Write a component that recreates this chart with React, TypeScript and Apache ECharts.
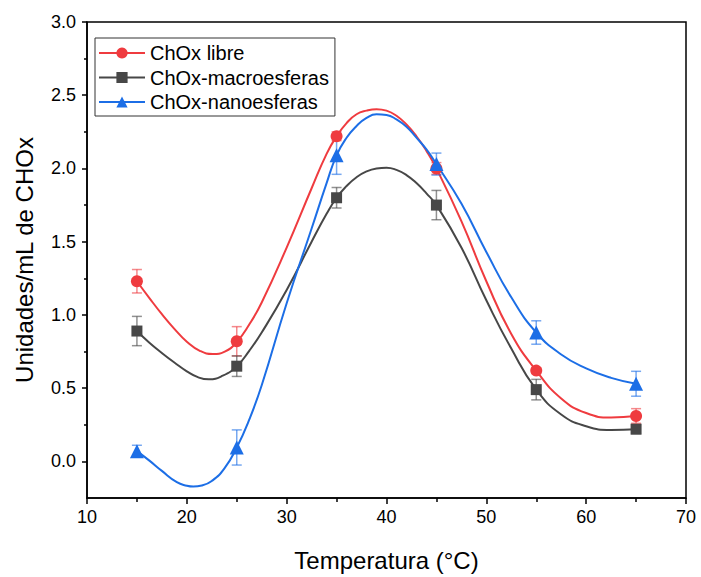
import React, { useEffect, useRef } from "react";
import * as echarts from "echarts";

const xPoints = [15, 25, 35, 45, 55, 65];
const libre = [1.23, 0.82, 2.22, 2.0, 0.62, 0.31];
const libreErr = [0.08, 0.1, 0.03, 0.04, 0.02, 0.05];
const macro = [0.89, 0.65, 1.8, 1.75, 0.49, 0.22];
const macroErr = [0.1, 0.07, 0.07, 0.1, 0.07, 0.03];
const nano = [0.07, 0.095, 2.09, 2.03, 0.88, 0.53];
const nanoErr = [0.04, 0.12, 0.13, 0.075, 0.08, 0.085];

// fitted curves
const libreCurveX = [15, 16.25, 17.5, 18.75, 20, 21.3, 22.6, 23.8, 25, 26.25, 27.5, 30, 32.5, 34, 35, 36, 37, 38, 39, 40, 41, 42, 43, 44, 45, 47.5, 50, 52.5, 55, 57.5, 60, 62.5, 65];
const libreCurveY = [1.23, 1.115, 1.005, 0.905, 0.817, 0.755, 0.733, 0.75, 0.815, 0.934, 1.085, 1.46, 1.865, 2.1, 2.22, 2.31, 2.37, 2.395, 2.405, 2.395, 2.36, 2.3, 2.22, 2.12, 2.0, 1.64, 1.23, 0.87, 0.62, 0.43, 0.33, 0.3, 0.31];
const macroCurveX = [15, 16.25, 17.5, 18.75, 20, 21.1, 22.2, 23.6, 25, 26.25, 27.5, 30, 32.5, 34, 35, 36, 37, 38, 39, 40, 41, 42, 43, 44, 45, 47.5, 50, 52.5, 55, 57.5, 60, 62.5, 65];
const macroCurveY = [0.89, 0.81, 0.74, 0.675, 0.615, 0.575, 0.56, 0.585, 0.65, 0.755, 0.88, 1.17, 1.5, 1.69, 1.8, 1.88, 1.94, 1.98, 2.0, 2.005, 1.99, 1.955, 1.9, 1.83, 1.75, 1.46, 1.1, 0.77, 0.49, 0.32, 0.24, 0.215, 0.22];
const nanoCurveX = [15, 16.25, 17.5, 19, 20, 20.65, 21.5, 22.5, 23.75, 25, 26.25, 27.5, 30, 32.5, 34, 35, 36, 37, 38, 39, 40, 41, 42, 43, 44, 45, 47.5, 50, 52.5, 55, 57.5, 60, 62.5, 65];
const nanoCurveY = [0.07, 0.005, -0.065, -0.142, -0.166, -0.172, -0.165, -0.134, -0.05, 0.095, 0.285, 0.52, 1.08, 1.59, 1.9, 2.09, 2.21, 2.29, 2.345, 2.37, 2.365, 2.335, 2.285, 2.21, 2.13, 2.03, 1.76, 1.43, 1.12, 0.88, 0.73, 0.635, 0.57, 0.53];

const yMajor = [0, 0.5, 1, 1.5, 2, 2.5, 3];
const yMinor = [0.25, 0.75, 1.25, 1.75, 2.25, 2.75];

const names = ["ChOx libre", "ChOx-macroesferas", "ChOx-nanoesferas"];
const colors = ["#ef3b3f", "#474747", "#1c6ee6"];
const errColors = ["rgba(239,59,63,0.6)", "rgba(71,71,71,0.6)", "rgba(28,110,230,0.6)"];
const symbols = ["circle", "rect", "triangle"];
const symbolSizes = [12, 11, 14];

const FONT = "Liberation Sans, Arial, sans-serif";

export default function App() {
  const ref = useRef<HTMLDivElement>(null);
  useEffect(() => {
    if (!ref.current) return;
    const chart = echarts.init(ref.current, undefined, { renderer: "svg" });
    const values = [libre, macro, nano];
    const errs = [libreErr, macroErr, nanoErr];
    const curves = [
      [libreCurveX, libreCurveY],
      [macroCurveX, macroCurveY],
      [nanoCurveX, nanoCurveY],
    ];

    const curveSeries = curves.map((c, i) => ({
      name: names[i],
      type: "line",
      data: c[0].map((x, j) => [x, c[1][j]]),
      smooth: 0.5,
      showSymbol: false,
      symbol: symbols[i],
      lineStyle: { color: colors[i], width: 2 },
      itemStyle: { color: colors[i] },
      xAxisIndex: 0,
      yAxisIndex: 0,
      z: 2,
    }));

    const errSeries = errs.map((e, i) => ({
      name: "err" + i,
      type: "custom",
      xAxisIndex: 0,
      yAxisIndex: 0,
      data: xPoints.map((x, j) => [x, values[i][j], e[j]]),
      encode: { x: 0, y: 1 },
      z: 3,
      renderItem: (params: any, api: any) => {
        const x = api.value(0);
        const y = api.value(1);
        const er = api.value(2);
        const top = api.coord([x, y + er]);
        const bot = api.coord([x, y - er]);
        const hw = 5;
        const style = { stroke: errColors[i], lineWidth: 1.5 };
        return {
          type: "group",
          children: [
            { type: "line", shape: { x1: top[0], y1: top[1], x2: bot[0], y2: bot[1] }, style },
            { type: "line", shape: { x1: top[0] - hw, y1: top[1], x2: top[0] + hw, y2: top[1] }, style },
            { type: "line", shape: { x1: bot[0] - hw, y1: bot[1], x2: bot[0] + hw, y2: bot[1] }, style },
          ],
        };
      },
    }));

    const markerSeries = values.map((v, i) => ({
      name: names[i],
      type: "scatter",
      xAxisIndex: 0,
      yAxisIndex: 0,
      data: xPoints.map((x, j) => [x, v[j]]),
      symbol: symbols[i],
      symbolSize: symbolSizes[i],
      itemStyle: { color: colors[i], opacity: 1 },
      z: 4,
    }));

    chart.setOption({
      animation: false,
      backgroundColor: "#fff",
      textStyle: { fontFamily: FONT },
      grid: {
        left: 87,
        right: 15,
        top: 22,
        bottom: 75,
        show: true,
        borderColor: "#000",
        borderWidth: 1.5,
        backgroundColor: "transparent",
      },
      legend: {
        data: names,
        orient: "vertical",
        left: 95,
        top: 38,
        itemWidth: 46,
        itemHeight: 14,
        itemGap: 4.5,
        padding: [5, 6, 4, 3],
        borderColor: "#333",
        borderWidth: 1,
        textStyle: { fontSize: 20, color: "#000", fontFamily: FONT },
      },
      xAxis: [
        {
          type: "value",
          min: 10,
          max: 70,
          interval: 10,
          name: "Temperatura (°C)",
          nameLocation: "middle",
          nameGap: 50,
          nameTextStyle: { fontSize: 24, color: "#000", fontFamily: FONT },
          axisLine: { show: true, onZero: false, lineStyle: { color: "#000", width: 1.5 } },
          axisTick: { show: true, length: 6, lineStyle: { color: "#000", width: 1.5 } },
          minorTick: { show: true, splitNumber: 2, length: 4, lineStyle: { color: "#000", width: 1.5 } },
          axisLabel: { fontSize: 18, color: "#000", margin: 10, fontFamily: FONT },
          splitLine: { show: false },
        },
      ],
      yAxis: [
        {
          type: "value",
          min: -0.25,
          max: 3,
          name: "Unidades/mL de CHOx",
          nameLocation: "middle",
          nameGap: 51,
          nameTextStyle: { fontSize: 24, color: "#000", fontFamily: FONT },
          axisLine: { show: true, onZero: false, lineStyle: { color: "#000", width: 1.5 } },
          axisTick: { show: true, length: 5, customValues: yMajor, lineStyle: { color: "#000", width: 1.5 } },
          axisLabel: {
            fontSize: 18,
            color: "#000",
            margin: 11,
            customValues: yMajor,
            fontFamily: FONT,
            formatter: (v: number) => v.toFixed(1),
          },
          splitLine: { show: false },
        },
        {
          type: "value",
          min: -0.25,
          max: 3,
          position: "left",
          axisLine: { show: false, onZero: false },
          axisTick: { show: true, length: 3, customValues: yMinor, lineStyle: { color: "#000", width: 1.5 } },
          axisLabel: { show: false },
          splitLine: { show: false },
        },
      ],
      series: [...curveSeries, ...errSeries, ...markerSeries],
    });
    return () => chart.dispose();
  }, []);
  return (
    <div
      ref={ref}
      style={{ position: "fixed", left: 0, top: 0, width: 701, height: 577, background: "#fff" }}
    />
  );
}
